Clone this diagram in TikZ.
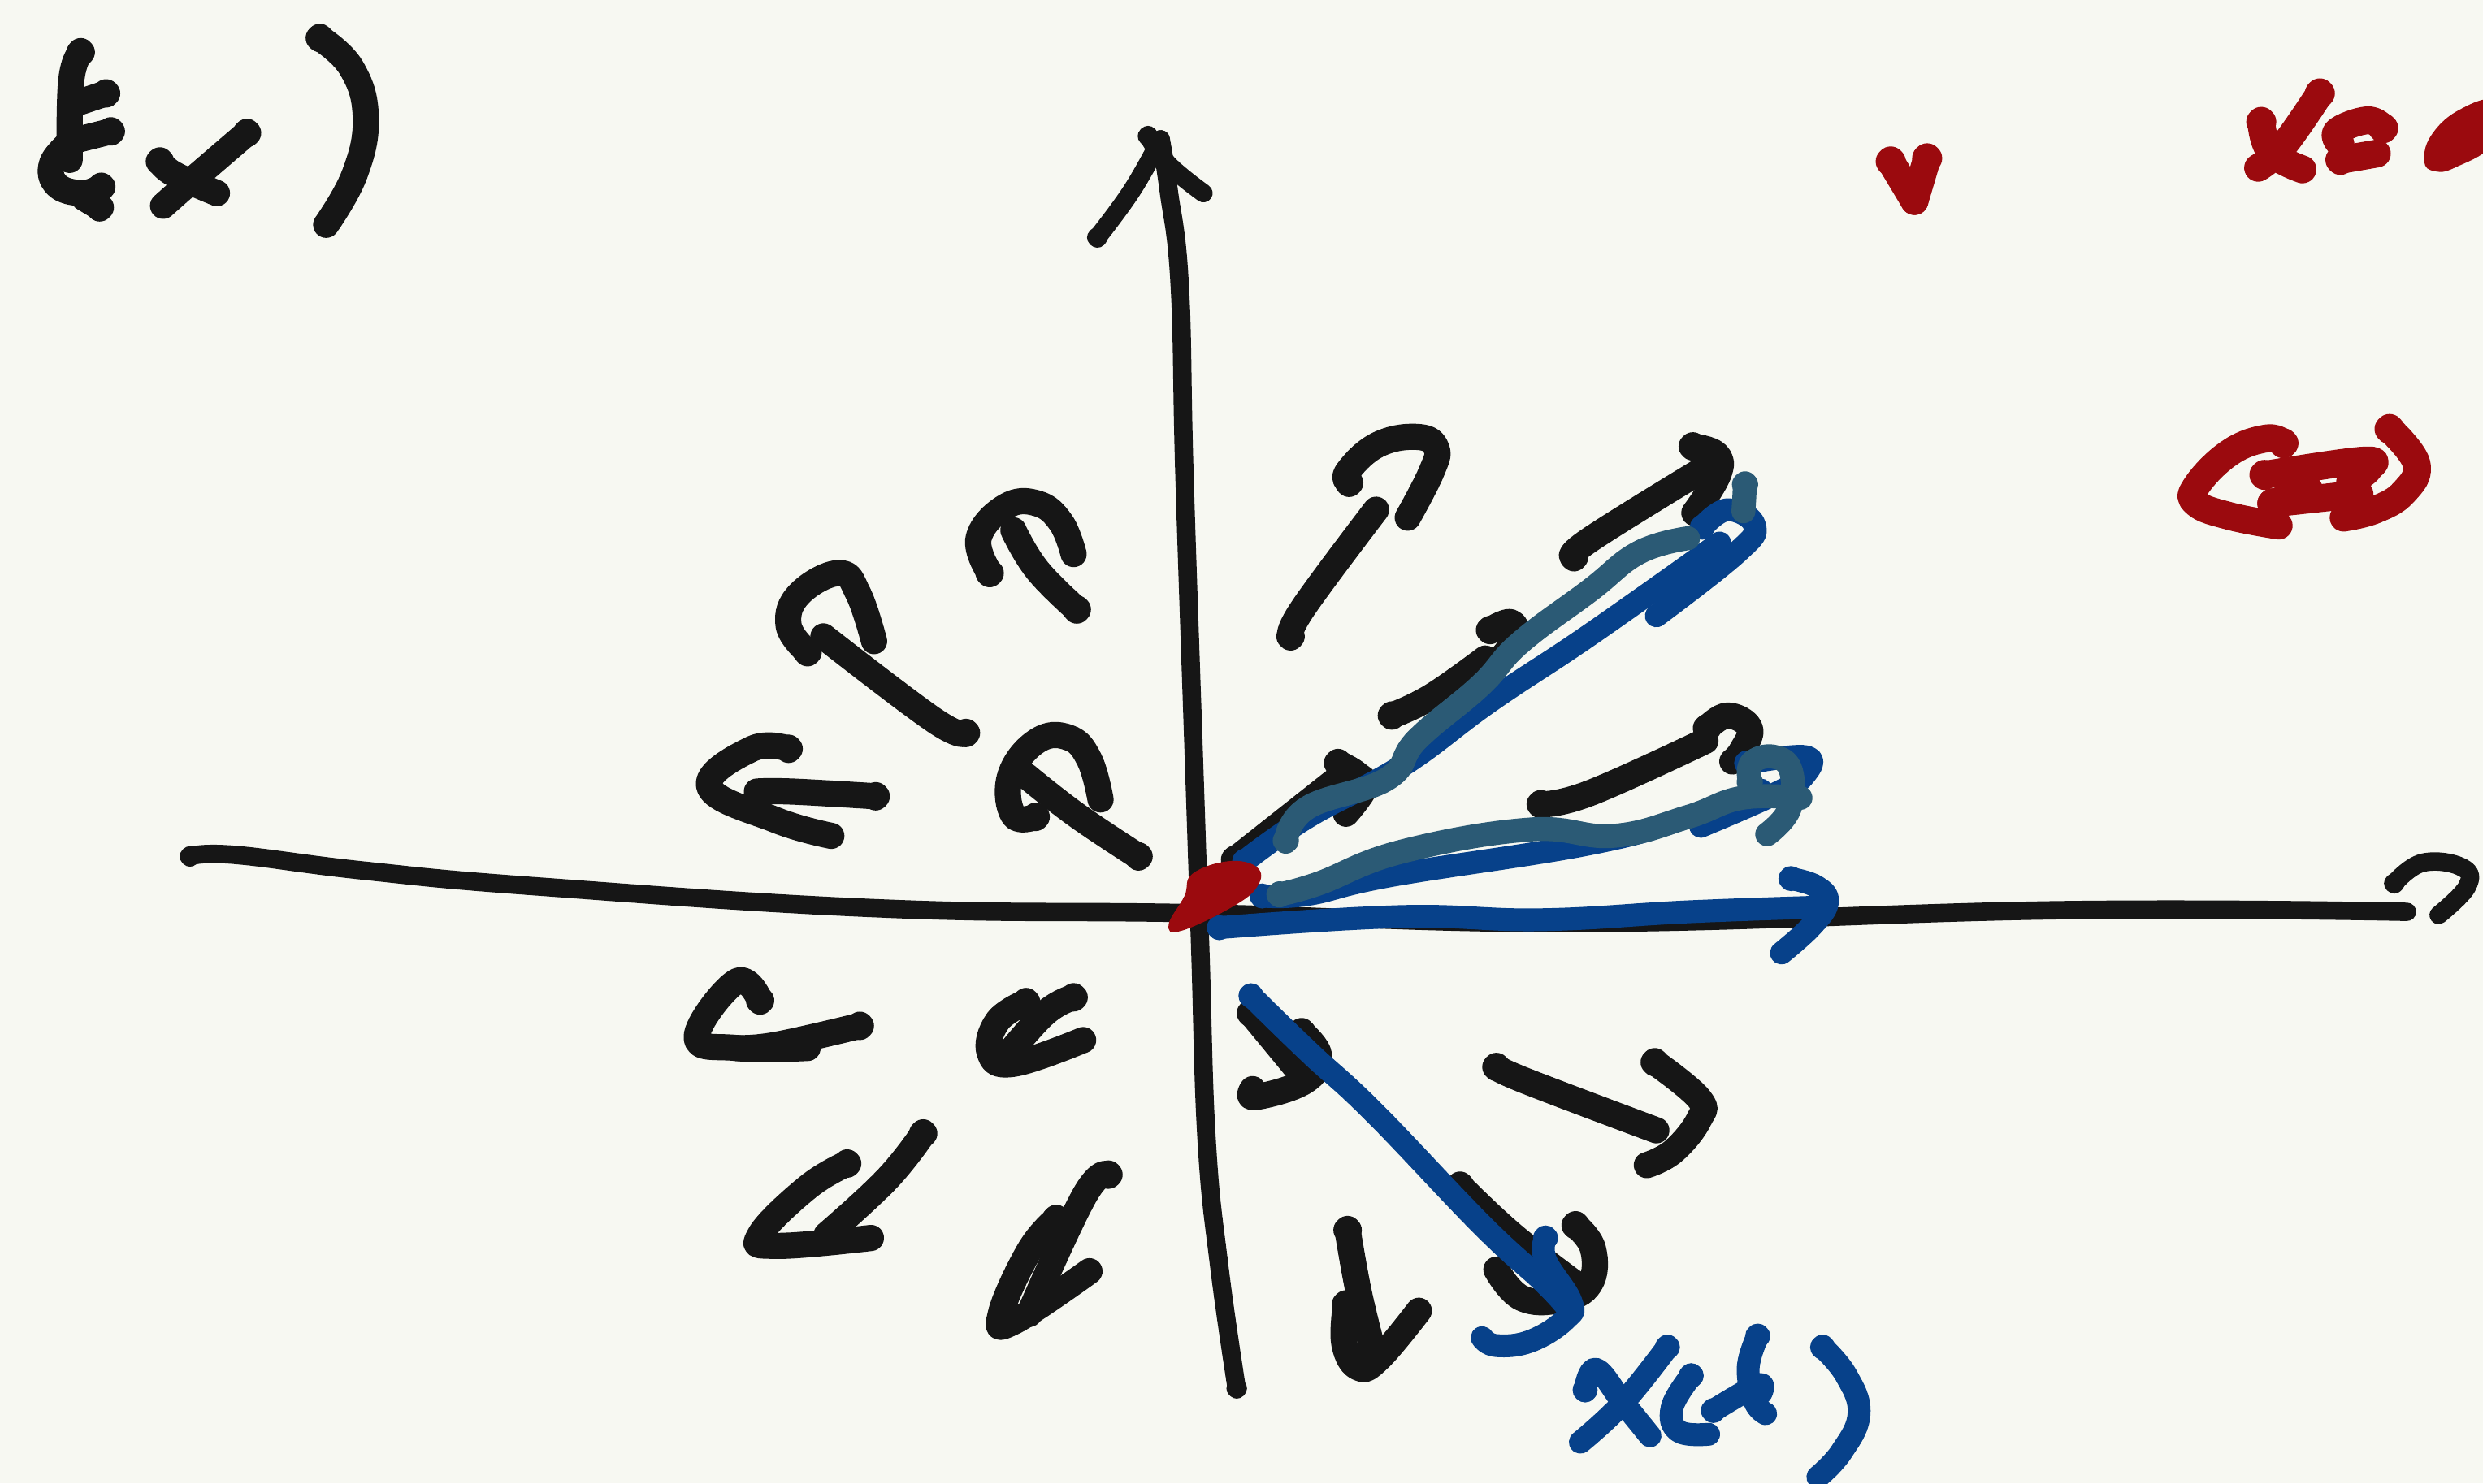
\documentclass[tikz,border=0pt]{standalone}
\definecolor{paper}{HTML}{F7F8F2}
\definecolor{inkblack}{HTML}{161616}
\definecolor{inkred}{HTML}{9B0A0E}
\definecolor{inkblue}{HTML}{07418A}
\definecolor{inkteal}{HTML}{2B5A75}
\tikzset{
  axis/.style={draw=inkblack,line width=3.3pt,line cap=round,line join=round},
  blk/.style={draw=inkblack,line width=4.7pt,line cap=round,line join=round},
  blu/.style={draw=inkblue,line width=4.1pt,line cap=round,line join=round},
  tel/.style={draw=inkteal,line width=4.3pt,line cap=round,line join=round},
  rd/.style={draw=inkred,line width=5pt,line cap=round,line join=round},
}
% first point carries the pen-down bulb of a hand-drawn stroke
\newcommand{\ink}[3]{\path[#1] plot[smooth,tension=0.72] coordinates {#2#3};\path[#1] #2 circle[radius=0.2pt];}
\begin{document}
\begin{tikzpicture}[x=0.01cm,y=-0.01cm]
\useasboundingbox (0,0) rectangle (1568,937);
\fill[paper] (0,0) rectangle (1568,937);
\clip (0,0) rectangle (1568,937);
% f(x)
\ink{blk}{(51,33)}{(45,51)(44,101)}
\ink{blk}{(67,59)}{(49,65)}
\ink{blk}{(70,83)}{(46,89)}
\ink{blk}{(64,118)}{(52,122)(36,117)(33,103)(46,88)}
\ink{blk}{(63,131)}{(53,125)}
\ink{blk}{(101,102)}{(110,110)(137,122)}
\ink{blk}{(156,84)}{(120,115)(103,130)}
\ink{blk}{(202,24)}{(222,43)(231,74)(224,110)(206,142)}
% axes
\ink{axis}{(781,877)}{(770,800)(762,720)(758,600)(754,480)(748,300)(745,180)(738,120)(733,88)}
\ink{axis}{(693,150)}{(715,120)(733,88)}
\ink{axis}{(725,86)}{(738,104)(760,122)}
\ink{axis}{(120,541)}{(148,540)(230,550)(340,560)(560,574)(760,577)(1000,583)(1300,575)(1520,576)}
\ink{axis}{(1512,558)}{(1530,545)(1555,548)(1558,560)(1540,578)}
% upper left field
\ink{blk}{(719,541)}{(680,515)(648,490)}
\ink{blk}{(654,516)}{(640,515)(638,490)(655,468)(675,466)(688,480)(695,505)}
\ink{blk}{(610,463)}{(590,455)(520,402)}
\ink{blk}{(510,412)}{(498,395)(505,375)(530,362)(542,375)(552,405)}
\ink{blk}{(680,385)}{(655,360)(640,335)}
\ink{blk}{(625,362)}{(618,340)(635,320)(655,318)(670,330)(678,350)}
\ink{blk}{(553,503)}{(500,500)(478,500)}
\ink{blk}{(498,473)}{(475,473)(448,497)(490,518)(525,528)}
% lower left field
\ink{blk}{(648,633)}{(630,645)(625,665)(640,672)(684,657)}
\ink{blk}{(678,630)}{(660,640)(635,668)}
\ink{blk}{(543,648)}{(490,660)(465,662)}
\ink{blk}{(480,632)}{(465,620)(440,655)(465,662)(510,662)}
\ink{blk}{(583,716)}{(560,745)(522,780)}
\ink{blk}{(535,735)}{(510,750)(480,780)(490,787)(550,782)}
\ink{blk}{(700,742)}{(685,755)(650,830)}
\ink{blk}{(667,770)}{(650,790)(632,830)(640,835)(688,803)}
% upper right field
\ink{blk}{(815,402)}{(823,384)(869,322)}
\ink{blk}{(852,305)}{(851,298)(870,281)(895,276)(907,283)(904,298)(889,327)}
\ink{blk}{(994,352)}{(1004,341)(1078,295)}
\ink{blk}{(1069,282)}{(1084,287)(1085,300)(1070,324)}
\ink{blk}{(879,452)}{(904,440)(938,416)}
\ink{blk}{(941,398)}{(954,393)(957,403)(946,418)}
\ink{blk}{(780,543)}{(842,494)}
\ink{blk}{(845,482)}{(857,489)(862,497)(850,514)}
\ink{blk}{(973,508)}{(1004,501)(1077,468)}
\ink{blk}{(1078,460)}{(1091,452)(1105,460)(1100,474)(1094,481)}
% lower right field
\ink{blk}{(790,640)}{(818,674)}
\ink{blk}{(822,652)}{(833,667)(824,683)(793,693)(791,688)}
\ink{blk}{(945,674)}{(964,683)(1046,714)}
\ink{blk}{(1045,671)}{(1073,694)(1073,707)(1057,727)(1040,736)}
\ink{blk}{(922,749)}{(955,780)(995,811)}
\ink{blk}{(995,774)}{(1006,789)(1004,811)(986,821)(961,820)(945,802)}
\ink{blk}{(851,777)}{(858,816)(867,853)}
\ink{blk}{(850,824)}{(849,849)(858,864)(871,858)(896,828)}
% blue vectors
\ink{blu}{(786,544)}{(826,516)(885,484)(941,443)(1004,401)(1086,343)}
\ink{blu}{(1075,333)}{(1091,322)(1108,332)(1097,349)(1046,389)}
\ink{blu}{(797,566)}{(826,565)(879,553)(1004,533)(1066,516)(1112,499)}
\ink{blu}{(1103,482)}{(1140,478)(1140,489)(1122,501)(1074,522)}
\ink{blu}{(770,586)}{(885,579)(973,581)(1066,576)(1150,573)}
\ink{blu}{(1131,555)}{(1147,560)(1154,570)(1144,585)(1125,602)}
\ink{blu}{(790,629)}{(827,665)(868,703)(936,774)(976,811)(992,829)}
\ink{blu}{(976,782)}{(976,796)(992,822)(989,833)(967,847)(945,850)(936,845)}
% x(t)
\ink{blu}{(1053,851)}{(1025,886)(998,911)}
\ink{blu}{(1001,878)}{(1008,865)(1025,886)(1042,907)}
\ink{blu}{(1068,869)}{(1056,889)(1060,904)(1079,906)}
\ink{blu}{(1110,844)}{(1104,864)(1108,885)(1115,893)}
\ink{blu}{(1082,891)}{(1110,875)(1112,880)}
\ink{blu}{(1151,851)}{(1166,869)(1174,893)(1163,917)(1148,933)}
% teal vectors
\ink{tel}{(812,531)}{(826,510)(876,492)(895,467)(935,433)(960,406)(1004,373)(1035,349)(1066,340)}
\ink{tel}{(1102,306)}{(1101,323)}
\ink{tel}{(808,565)}{(833,558)(885,538)(966,524)(1019,528)(1066,516)(1100,504)(1137,504)}
\ink{tel}{(1105,494)}{(1106,482)(1120,478)(1131,487)(1130,511)(1116,527)}
% red origin
\fill[inkred] plot[smooth cycle,tension=0.7] coordinates {(738,584)(748,566)(753,552)(776,544)(794,548)(794,560)(778,573)(746,588)};
% red text
\ink{rd}{(1194,102)}{(1209,127)}
\ink{rd}{(1217,100)}{(1209,127)}
\ink{rd}{(1428,77)}{(1434,96)(1454,107)}
\ink{rd}{(1465,59)}{(1442,92)(1426,106)}
\ink{rd}{(1505,81)}{(1495,76)(1476,83)(1478,91)}
\ink{rd}{(1478,101)}{(1501,97)}
\fill[inkred] plot[smooth cycle,tension=0.7] coordinates {(1531,102)(1535,86)(1552,70)(1575,64)(1575,90)(1550,106)(1537,108)};
\ink{rd}{(1442,280)}{(1431,277)(1408,286)(1387,307)(1387,318)(1408,326)(1439,332)}
\ink{rd}{(1430,300)}{(1492,291)(1496,296)(1484,305)}
\ink{rd}{(1435,318)}{(1490,312)}
\ink{rd}{(1435,318)}{(1458,309)}
\ink{rd}{(1509,271)}{(1526,293)(1518,311)(1500,322)(1480,327)}
\end{tikzpicture}
\end{document}
